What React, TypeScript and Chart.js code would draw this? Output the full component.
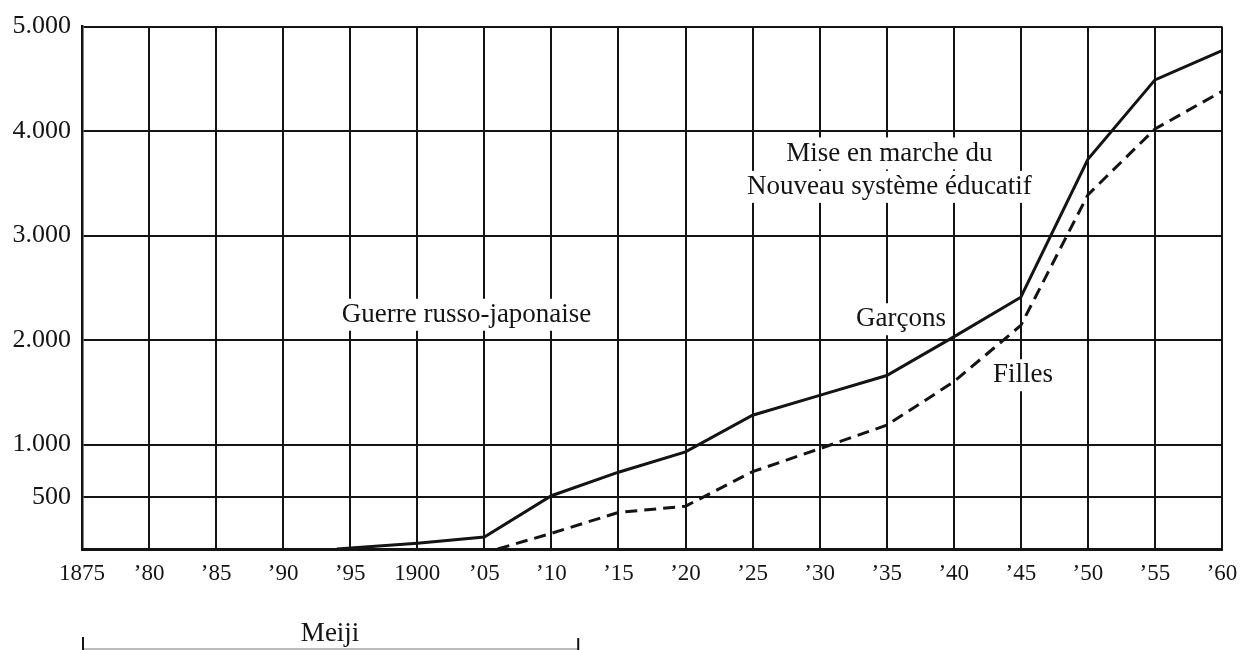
import React, { useEffect, useRef } from "react";
import { Chart, registerables } from "chart.js";

Chart.register(...registerables);

// ---- data ----
const xTickYears = [1875, 1880, 1885, 1890, 1895, 1900, 1905, 1910, 1915, 1920, 1925, 1930, 1935, 1940, 1945, 1950, 1955, 1960];
const xTickLabels = ["1875", "’80", "’85", "’90", "’95", "1900", "’05", "’10", "’15", "’20", "’25", "’30", "’35", "’40", "’45", "’50", "’55", "’60"];

const yTickValues = [0, 500, 1000, 2000, 3000, 4000, 5000];
const yTickLabels = ["", "500", "1.000", "2.000", "3.000", "4.000", "5.000"];

const garconsYears = [1894, 1900, 1905, 1910, 1915, 1920, 1925, 1930, 1935, 1940, 1945, 1950, 1955, 1960];
const garconsValues = [0, 55, 115, 510, 735, 930, 1280, 1470, 1660, 2030, 2410, 3730, 4490, 4770];

const fillesYears = [1906, 1910, 1915, 1920, 1925, 1930, 1935, 1940, 1945, 1950, 1955, 1960];
const fillesValues = [0, 150, 350, 410, 740, 960, 1185, 1600, 2140, 3390, 4020, 4380];

const annotationTexts = ["Guerre russo-japonaise", "Mise en marche du", "Nouveau système éducatif", "Garçons", "Filles"];
const annotationYears = [1903.67, 1935.2, 1935.2, 1936.07, 1945.16];
const annotationValues = [2242, 3786, 3466, 2199, 1663];

const eraLabel = "Meiji";
const eraStart = 1875;
const eraEnd = 1912;

const SERIF = '"Liberation Serif", "DejaVu Serif", serif';
const INK = "#141414";

const annotationPlugin = {
  id: "annotations",
  beforeDatasetsDraw(chart: any) {
    const { ctx, scales } = chart;
    const xs = scales.x;
    const ys = scales.y;
    ctx.save();
    ctx.font = `27px ${SERIF}`;
    ctx.textAlign = "center";
    ctx.textBaseline = "middle";
    annotationTexts.forEach((t, i) => {
      const px = xs.getPixelForValue(annotationYears[i]);
      const py = ys.getPixelForValue(annotationValues[i]);
      const w = ctx.measureText(t).width;
      ctx.fillStyle = "#ffffff";
      ctx.fillRect(px - w / 2 - 6, py - 16, w + 12, 32);
    });
    ctx.fillStyle = INK;
    annotationTexts.forEach((t, i) => {
      const px = xs.getPixelForValue(annotationYears[i]);
      const py = ys.getPixelForValue(annotationValues[i]);
      ctx.fillText(t, px, py);
    });
    ctx.restore();
  },
  afterDraw(chart: any) {
    const { ctx, scales } = chart;
    const xs = scales.x;
    const x0 = xs.getPixelForValue(eraStart);
    const x1 = xs.getPixelForValue(eraEnd);
    ctx.save();
    ctx.strokeStyle = "#bbbbbb";
    ctx.lineWidth = 2;
    ctx.beginPath();
    ctx.moveTo(x0, 649);
    ctx.lineTo(x1, 649);
    ctx.stroke();
    ctx.strokeStyle = INK;
    ctx.lineWidth = 2;
    ctx.beginPath();
    ctx.moveTo(x0 + 1, 637);
    ctx.lineTo(x0 + 1, 650);
    ctx.moveTo(x1, 638);
    ctx.lineTo(x1, 650);
    ctx.stroke();
    ctx.fillStyle = INK;
    ctx.font = `27px ${SERIF}`;
    ctx.textAlign = "center";
    ctx.textBaseline = "alphabetic";
    ctx.fillText(eraLabel, (x0 + x1) / 2, 641);
    ctx.restore();
  },
};

export default function App() {
  const canvasRef = useRef<HTMLCanvasElement | null>(null);

  useEffect(() => {
    if (!canvasRef.current) return;
    const chart = new Chart(canvasRef.current, {
      type: "line",
      data: {
        datasets: [
          {
            label: "Garçons",
            data: garconsYears.map((x, i) => ({ x, y: garconsValues[i] })),
            borderColor: INK,
            borderWidth: 3,
            pointRadius: 0,
            tension: 0,
            fill: false,
          },
          {
            label: "Filles",
            data: fillesYears.map((x, i) => ({ x, y: fillesValues[i] })),
            borderColor: INK,
            borderWidth: 3,
            borderDash: [12, 7],
            pointRadius: 0,
            tension: 0,
            fill: false,
          },
        ],
      },
      options: {
        animation: false,
        responsive: false,
        devicePixelRatio: 1,
        layout: { padding: { top: 26, right: 27, left: 0, bottom: 0 } },
        plugins: {
          legend: { display: false },
          tooltip: { enabled: false },
          title: { display: false },
        },
        scales: {
          x: {
            type: "linear",
            min: 1875,
            max: 1960,
            afterBuildTicks: (s: any) => {
              s.ticks = xTickYears.map((v) => ({ value: v }));
            },
            afterFit: (s: any) => {
              s.height = 101;
            },
            ticks: {
              autoSkip: false,
              maxRotation: 0,
              padding: 11,
              color: INK,
              font: { family: SERIF, size: 23 },
              callback: (v: any) => xTickLabels[xTickYears.indexOf(Number(v))] ?? "",
            },
            grid: { color: INK, lineWidth: 2, drawTicks: false },
            border: { color: INK, width: 3 },
          },
          y: {
            type: "linear",
            min: 0,
            max: 5000,
            afterBuildTicks: (s: any) => {
              s.ticks = yTickValues.map((v) => ({ value: v }));
            },
            afterFit: (s: any) => {
              s.width = 82;
            },
            ticks: {
              autoSkip: false,
              padding: 11,
              color: INK,
              font: { family: SERIF, size: 26 },
              callback: (v: any) => yTickLabels[yTickValues.indexOf(Number(v))] ?? "",
            },
            grid: { color: INK, lineWidth: 2, drawTicks: false },
            border: { color: INK, width: 2.5 },
          },
        },
      },
      plugins: [annotationPlugin],
    });
    return () => chart.destroy();
  }, []);

  return (
    <div style={{ position: "fixed", left: 0, top: 0, width: 1249, height: 650, background: "#fff" }}>
      <canvas ref={canvasRef} width={1249} height={650} style={{ display: "block" }} />
    </div>
  );
}
